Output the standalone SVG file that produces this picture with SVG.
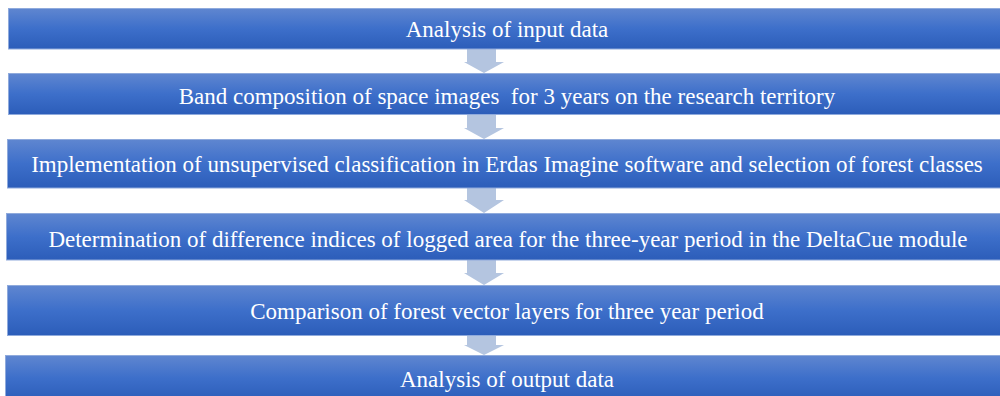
<svg xmlns="http://www.w3.org/2000/svg" width="1000" height="396" viewBox="0 0 1000 396">
<style>
.box{fill:url(#g);stroke:#8FAADC;stroke-width:1}
.lbl{font-family:"Liberation Serif","Times New Roman",serif;font-size:23px;fill:#ffffff;text-anchor:middle;white-space:pre}
.arr{fill:#B4C5E0}
</style>
<defs>
<linearGradient id="g" x1="0" y1="0" x2="0" y2="1">
<stop offset="0" stop-color="#5F86D0"/>
<stop offset="0.5" stop-color="#3D6FCA"/>
<stop offset="1" stop-color="#2C5DB9"/>
</linearGradient>
</defs>
<g id="connectors">
<polygon class="arr" points="467,49 496,49 496,62 504,62 484,73 464,62 467,62"/>
<polygon class="arr" points="467,115 496,115 496,128 504,128 484,139 464,128 467,128"/>
<polygon class="arr" points="467,188 496,188 496,200 504,200 484,213 464,200 467,200"/>
<polygon class="arr" points="467,260 496,260 496,273 504,273 484,285 464,273 467,273"/>
<polygon class="arr" points="467,336 496,336 496,345 504,345 484,355 464,345 467,345"/>
</g>
<g id="n1"><rect class="box" x="8.5" y="8.5" width="1000" height="40.5"/><text class="lbl" x="507" y="37">Analysis of input data</text></g>
<g id="n2"><rect class="box" x="8.5" y="73.5" width="1000" height="41"/><text class="lbl" x="507" y="104" xml:space="preserve">Band composition of space images  for 3 years on the research territory</text></g>
<g id="n3"><rect class="box" x="7.5" y="139.5" width="1000" height="48.5"/><text class="lbl" x="507" y="172">Implementation of unsupervised classification in Erdas Imagine software and selection of forest classes</text></g>
<g id="n4"><rect class="box" x="6.5" y="213.5" width="1002" height="46.5"/><text class="lbl" x="508" y="247">Determination of difference indices of logged area for the three-year period in the DeltaCue module</text></g>
<g id="n5"><rect class="box" x="7.5" y="285.5" width="1000" height="50"/><text class="lbl" x="507" y="319">Comparison of forest vector layers for three year period</text></g>
<g id="n6"><rect class="box" x="5.5" y="355.5" width="1003" height="45"/><text class="lbl" x="507" y="387">Analysis of output data</text></g>
</svg>
